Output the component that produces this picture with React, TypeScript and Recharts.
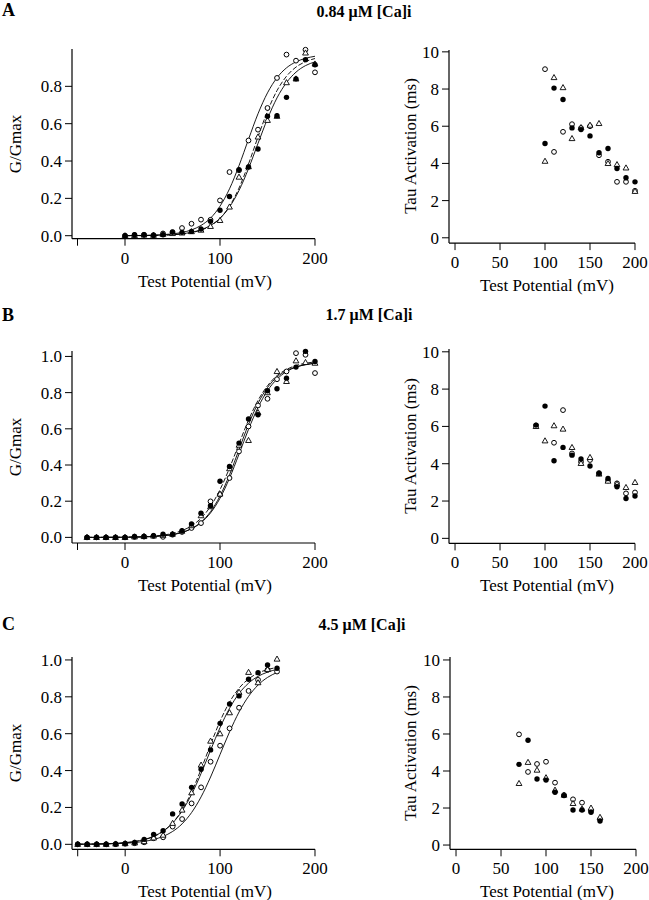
import React from 'react';
import { ComposedChart, XAxis, YAxis, Line, Scatter } from 'recharts';

// ---------- Panel A (0.84 µM) ----------
const aX = [0, 10, 20, 30, 40, 50, 60, 70, 80, 90, 100, 110, 120, 130, 140, 150, 160, 170, 180, 190, 200];
const aFilled = [0.0, 0.005, 0.005, 0.002, 0.005, 0.018, 0.018, 0.023, 0.036, 0.077, 0.136, 0.21, 0.354, 0.368, 0.464, 0.64, 0.643, 0.741, 0.84, 0.943, 0.916];
const aOpen = [0.0, 0.003, 0.005, 0.003, 0.012, 0.02, 0.041, 0.064, 0.086, 0.085, 0.189, 0.341, 0.35, 0.51, 0.568, 0.684, 0.845, 0.97, 0.9375, 0.996, 0.875];
const aTri = [0.0, 0.002, 0.004, 0.003, 0.008, 0.012, 0.015, 0.022, 0.03, 0.05, 0.082, 0.154, 0.314, 0.37, 0.529, 0.618, 0.64, 0.82, 0.84, 0.979, 0.92];
const aFitOpen = [0.0005, 0.001, 0.0017, 0.003, 0.0055, 0.0099, 0.0176, 0.031, 0.055, 0.094, 0.158, 0.251, 0.375, 0.516, 0.653, 0.765, 0.846, 0.899, 0.931, 0.95, 0.961];
const aFitTri = [0.0002, 0.0004, 0.0008, 0.0015, 0.0027, 0.005, 0.009, 0.0164, 0.0298, 0.053, 0.093, 0.158, 0.255, 0.384, 0.529, 0.667, 0.777, 0.854, 0.903, 0.932, 0.949];
const aFitFilled = [0.0003, 0.0006, 0.0011, 0.0019, 0.0033, 0.0059, 0.0104, 0.0183, 0.0319, 0.055, 0.093, 0.154, 0.242, 0.359, 0.494, 0.626, 0.738, 0.82, 0.876, 0.911, 0.931];

const aTauX = [100, 110, 120, 130, 140, 150, 160, 170, 180, 190, 200];
const aTauFilled = [5.07, 8.05, 7.44, 5.91, 5.82, 5.48, 4.57, 4.8, 3.73, 3.23, 3.01];
const aTauOpen = [9.07, 4.62, 5.7, 6.11, 5.9, 6.0, 4.44, 4.09, 3.01, 3.01, 2.53];
const aTauTri = [4.12, 8.62, 8.08, 5.34, 5.93, 6.06, 6.15, 4.0, 3.94, 3.76, 2.5];

// ---------- Panel B (1.7 µM) ----------
const bX = [-40, -30, -20, -10, 0, 10, 20, 30, 40, 50, 60, 70, 80, 90, 100, 110, 120, 130, 140, 150, 160, 170, 180, 190, 200];
const bFilled = [0, 0, 0, 0, 0, 0.005, 0.005, 0.01, 0.018, 0.018, 0.037, 0.074, 0.134, 0.175, 0.31, 0.392, 0.521, 0.654, 0.678, 0.81, 0.821, 0.88, 0.941, 1.028, 0.972];
const bOpen = [0, 0, 0, 0, 0, 0.003, 0.005, 0.008, 0.003, 0.015, 0.03, 0.052, 0.079, 0.199, 0.236, 0.328, 0.475, 0.613, 0.729, 0.766, 0.874, 0.917, 1.018, 1.009, 0.908];
const bTri = [0, 0, 0, 0, 0, 0.003, 0.005, 0.008, 0.012, 0.018, 0.035, 0.065, 0.12, 0.17, 0.24, 0.38, 0.51, 0.536, 0.69, 0.8, 0.917, 0.862, 0.976, 0.967, 0.963];
const bFitFilled = [0.0001, 0.0003, 0.0005, 0.0008, 0.0014, 0.0024, 0.0042, 0.0074, 0.0127, 0.0219, 0.0376, 0.0635, 0.106, 0.171, 0.264, 0.383, 0.517, 0.648, 0.757, 0.838, 0.894, 0.928, 0.95, 0.962, 0.97];
const bFitOpen = [0.0001, 0.0002, 0.0003, 0.0005, 0.0009, 0.0016, 0.0029, 0.0051, 0.0089, 0.0157, 0.0274, 0.0475, 0.0811, 0.135, 0.216, 0.327, 0.46, 0.597, 0.718, 0.811, 0.875, 0.916, 0.941, 0.955, 0.964];
const bFitTri = [0.0001, 0.0001, 0.0003, 0.0005, 0.0008, 0.0015, 0.0027, 0.0049, 0.0086, 0.0155, 0.0276, 0.0485, 0.0844, 0.142, 0.229, 0.346, 0.485, 0.624, 0.741, 0.828, 0.886, 0.922, 0.942, 0.954, 0.961];

const bTauX = [90, 100, 110, 120, 130, 140, 150, 160, 170, 180, 190, 200];
const bTauFilled = [6.07, 7.09, 4.16, 4.875, 4.46, 4.25, 3.875, 3.48, 3.21, 2.77, 2.14, 2.27];
const bTauOpen = [6.05, null, 5.125, 6.875, 4.55, 4.1, 4.2, 3.5, 3.1, 2.95, 2.41, 2.46];
const bTauTri = [6.0, 5.23, 6.04, 5.86, 4.875, 4.02, 4.34, 3.45, 3.07, 2.91, 2.73, 3.0];

// ---------- Panel C (4.5 µM) ----------
const cX = [-50, -40, -30, -20, -10, 0, 10, 20, 30, 40, 50, 60, 70, 80, 90, 100, 110, 120, 130, 140, 150, 160];
const cFilled = [0, 0, 0, 0, 0.002, 0.005, 0.01, 0.027, 0.054, 0.074, 0.165, 0.219, 0.309, 0.407, 0.512, 0.656, 0.761, 0.805, 0.895, 0.931, 0.973, 0.955];
const cTri = [0, 0, 0, 0, 0.002, 0.004, 0.008, 0.015, 0.035, 0.05, 0.114, 0.186, 0.28, 0.43, 0.56, 0.6, 0.714, 0.825, 0.933, 0.877, 0.949, 1.005];
const cOpen = [0, 0, 0, 0, 0.001, 0.003, 0.006, 0.011, 0.033, 0.038, 0.096, 0.137, 0.222, 0.309, 0.448, 0.535, 0.629, 0.741, 0.832, 0.892, 0.946, 0.937];
const cFitFilled = [0.0007, 0.0011, 0.0019, 0.0033, 0.0055, 0.0094, 0.0157, 0.0264, 0.0437, 0.0719, 0.1156, 0.1808, 0.2711, 0.3844, 0.5105, 0.6333, 0.738, 0.818, 0.874, 0.911, 0.934, 0.949];
const cFitTri = [0.0005, 0.0009, 0.0016, 0.0027, 0.0047, 0.0081, 0.0141, 0.0243, 0.0416, 0.0702, 0.1162, 0.1862, 0.284, 0.407, 0.5414, 0.668, 0.7716, 0.8469, 0.8972, 0.9288, 0.9479, 0.9593];
const cFitOpen = [0.0004, 0.0007, 0.0012, 0.0021, 0.0034, 0.0058, 0.0095, 0.0159, 0.0262, 0.043, 0.0697, 0.111, 0.1724, 0.2573, 0.3651, 0.4875, 0.6099, 0.7177, 0.8026, 0.8639, 0.9053, 0.932];

const cTauX = [70, 80, 90, 100, 110, 120, 130, 140, 150, 160];
const cTauOpen = [5.98, 3.95, 4.38, 4.5, 3.37, 2.7, 2.47, 2.29, 1.85, 1.39];
const cTauFilled = [4.36, 5.66, 3.57, 3.51, 2.85, 2.67, 1.89, 1.89, 1.77, 1.3];
const cTauTri = [3.33, 4.47, 4.05, 3.64, 2.97, 2.7, 2.25, 1.95, 2.0, 1.5];

// ---------- Axis ticks / labels ----------
const gTicksX = [-50, 0, 100, 200];
const tauTicksX = [0, 50, 100, 150, 200];
const gTicksYA = [0, 0.2, 0.4, 0.6, 0.8];
const gTicksY = [0, 0.2, 0.4, 0.6, 0.8, 1.0];
const tauTicksY = [0, 2, 4, 6, 8, 10];
const panelLetters = ['A', 'B', 'C'];
const concLabels = ['0.84 \u03bcM [Ca]i', '1.7 \u03bcM [Ca]i', '4.5 \u03bcM [Ca]i'];
const xTitle = 'Test Potential (mV)';
const gTitle = 'G/Gmax';
const tauTitle = 'Tau Activation (ms)';

const FONT = '"Liberation Serif", "Times New Roman", serif';

const pts = (xs: number[], ys: (number | null)[]) =>
  xs.map((x, i) => ({ x, y: ys[i] })).filter((p) => p.y !== null && p.y !== undefined);

const FilledDot = (p: any) => <circle cx={p.cx} cy={p.cy} r={2.7} fill="#000" />;
const OpenDot = (p: any) => <circle cx={p.cx} cy={p.cy} r={2.4} fill="#fff" stroke="#000" strokeWidth={1} />;
const TriDot = (p: any) => (
  <path
    d={`M${p.cx},${p.cy - 3} L${p.cx + 2.9},${p.cy + 2.1} L${p.cx - 2.9},${p.cy + 2.1} Z`}
    fill="#fff"
    stroke="#000"
    strokeWidth={0.9}
  />
);

type PanelProps = {
  L: number; T: number; R: number; B: number;
  xDomain: [number, number]; yDomain: [number, number];
  xTicks: number[]; yTicks: number[];
  xFmt: (v: number) => string; yFmt: (v: number) => string;
  curves: { data: { x: number; y: any }[]; dash?: string }[];
  open: { x: number; y: any }[]; tri: { x: number; y: any }[]; filled: { x: number; y: any }[];
};

const YW = 60;
const XH = 30;

function Panel(props: PanelProps) {
  const { L, T, R, B } = props;
  const bx = L - 72;
  const by = T - 20;
  const bw = R - bx + 20;
  const bh = B - by + 40;
  const margin = { top: T - by, right: bx + bw - R, left: L - bx - YW, bottom: by + bh - B - XH };
  const tickStyle = { fill: '#000', fontSize: 17, fontFamily: FONT };
  const axisLine = { stroke: '#000', strokeWidth: 1.2 };
  return (
    <div style={{ position: 'absolute', left: bx, top: by, width: bw, height: bh }}>
      <ComposedChart width={bw} height={bh} margin={margin}>
        <XAxis
          type="number"
          dataKey="x"
          domain={props.xDomain}
          ticks={props.xTicks}
          interval={0}
          tickFormatter={props.xFmt}
          tick={tickStyle}
          tickSize={7}
          tickMargin={6}
          height={XH}
          axisLine={axisLine}
          tickLine={{ stroke: '#000', strokeWidth: 1 }}
        />
        <YAxis
          type="number"
          dataKey="y"
          domain={props.yDomain}
          ticks={props.yTicks}
          interval={0}
          tickFormatter={props.yFmt}
          tick={tickStyle}
          tickSize={7}
          tickMargin={3}
          width={YW}
          axisLine={axisLine}
          tickLine={{ stroke: '#000', strokeWidth: 1 }}
        />
        {props.curves.map((c, i) => (
          <Line
            key={'c' + i}
            data={c.data}
            dataKey="y"
            type="monotone"
            dot={false}
            activeDot={false}
            stroke="#000"
            strokeWidth={0.9}
            strokeDasharray={c.dash}
            isAnimationActive={false}
          />
        ))}
        <Scatter data={props.open} dataKey="y" shape={OpenDot} isAnimationActive={false} />
        <Scatter data={props.tri} dataKey="y" shape={TriDot} isAnimationActive={false} />
        <Scatter data={props.filled} dataKey="y" shape={FilledDot} isAnimationActive={false} />
      </ComposedChart>
    </div>
  );
}

const gxFmt = (v: number) => (v === -50 ? '' : String(v));
const gyFmt = (v: number) => v.toFixed(1);
const tFmt = (v: number) => String(v);

const textBase: React.CSSProperties = { position: 'absolute', fontFamily: FONT, color: '#000', whiteSpace: 'nowrap', lineHeight: 1 };

function CenterText({ x, y, text, size, rotate, bold }: { x: number; y: number; text: string; size: number; rotate?: boolean; bold?: boolean }) {
  return (
    <div
      style={{
        ...textBase,
        left: x,
        top: y,
        fontSize: size,
        fontWeight: bold ? 'bold' : 'normal',
        transform: `translate(-50%, -50%)${rotate ? ' rotate(-90deg)' : ''}`,
      }}
    >
      {text}
    </div>
  );
}

export default function App() {
  const rows = [
    {
      letterY: 10, titleX: 364, titleY: 12,
      left: {
        L: 72, T: 49.3, R: 315, B: 239, xDomain: [-55.8, 200] as [number, number], yDomain: [-0.016, 1.0] as [number, number], yTicks: gTicksYA,
        curves: [{ data: pts(aX, aFitOpen) }, { data: pts(aX, aFitFilled) }, { data: pts(aX, aFitTri), dash: '5 2' }],
        open: pts(aX, aOpen), tri: pts(aX, aTri), filled: pts(aX, aFilled),
      },
      right: {
        L: 449, T: 49.9, R: 635, B: 243, yDomain: [-0.285, 10.1] as [number, number],
        open: pts(aTauX, aTauOpen), tri: pts(aTauX, aTauTri), filled: pts(aTauX, aTauFilled),
      },
    },
    {
      letterY: 315, titleX: 369, titleY: 315,
      left: {
        L: 72, T: 351.3, R: 315, B: 543.3, xDomain: [-55.8, 200] as [number, number], yDomain: [-0.031, 1.03] as [number, number], yTicks: gTicksY,
        curves: [{ data: pts(bX, bFitOpen) }, { data: pts(bX, bFitTri) }, { data: pts(bX, bFitFilled), dash: '5 2' }],
        open: pts(bX, bOpen), tri: pts(bX, bTri), filled: pts(bX, bFilled),
      },
      right: {
        L: 449, T: 348.9, R: 635, B: 543.3, yDomain: [-0.27, 10.15] as [number, number],
        open: pts(bTauX, bTauOpen), tri: pts(bTauX, bTauTri), filled: pts(bTauX, bTauFilled),
      },
    },
    {
      letterY: 624, titleX: 362, titleY: 625,
      left: {
        L: 72, T: 657, R: 315, B: 849.3, xDomain: [-56, 200] as [number, number], yDomain: [-0.027, 1.016] as [number, number], yTicks: gTicksY,
        curves: [{ data: pts(cX, cFitOpen) }, { data: pts(cX, cFitFilled) }, { data: pts(cX, cFitTri), dash: '5 2' }],
        open: pts(cX, cOpen), tri: pts(cX, cTri), filled: pts(cX, cFilled),
      },
      right: {
        L: 450, T: 657, R: 636, B: 849.3, yDomain: [-0.23, 10.16] as [number, number],
        open: pts(cTauX, cTauOpen), tri: pts(cTauX, cTauTri), filled: pts(cTauX, cTauFilled),
      },
    },
  ];

  return (
    <div style={{ position: 'absolute', left: 0, top: 0, width: 649, height: 900, background: '#fff', overflow: 'hidden' }}>
      {rows.map((r, i) => (
        <React.Fragment key={i}>
          <Panel
            L={r.left.L} T={r.left.T} R={r.left.R} B={r.left.B}
            xDomain={r.left.xDomain} yDomain={r.left.yDomain}
            xTicks={gTicksX} yTicks={r.left.yTicks}
            xFmt={gxFmt} yFmt={gyFmt}
            curves={r.left.curves}
            open={r.left.open} tri={r.left.tri} filled={r.left.filled}
          />
          <Panel
            L={r.right.L} T={r.right.T} R={r.right.R} B={r.right.B}
            xDomain={[-6.7, 200]} yDomain={r.right.yDomain}
            xTicks={tauTicksX} yTicks={tauTicksY}
            xFmt={tFmt} yFmt={tFmt}
            curves={[]}
            open={r.right.open} tri={r.right.tri} filled={r.right.filled}
          />
          <div style={{ ...textBase, left: 2, top: r.letterY - 9, fontSize: 18, fontWeight: 'bold' }}>{panelLetters[i]}</div>
          <CenterText x={r.titleX} y={r.titleY} text={concLabels[i]} size={16} bold />
          <CenterText x={15} y={(r.left.T + r.left.B) / 2} text={gTitle} size={17} rotate />
          <CenterText x={410} y={(r.right.T + r.right.B) / 2} text={tauTitle} size={17} rotate />
          <CenterText x={205} y={r.left.B + 41.5} text={xTitle} size={17} />
          <CenterText x={547} y={r.right.B + 41.5} text={xTitle} size={17} />
        </React.Fragment>
      ))}
    </div>
  );
}
